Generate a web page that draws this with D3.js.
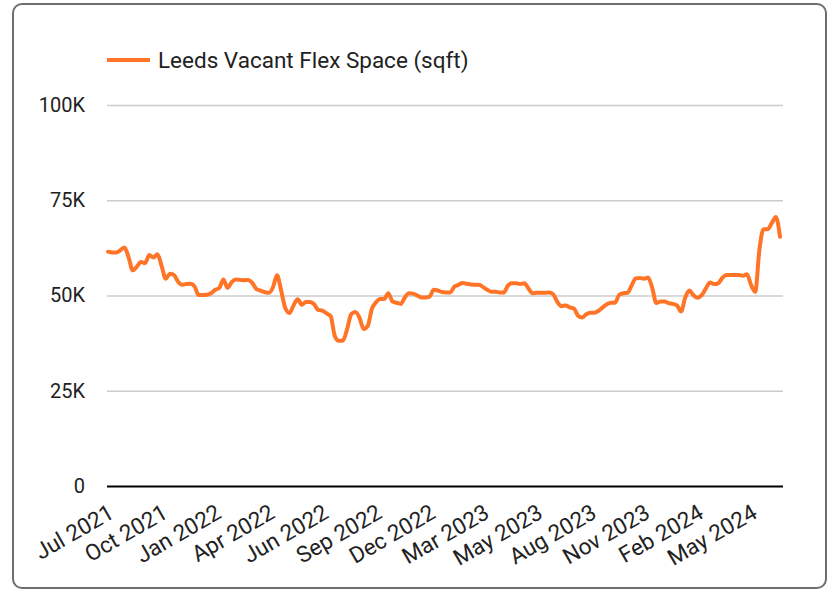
<!DOCTYPE html>
<html>
<head>
<meta charset="utf-8">
<script src="https://cdn.jsdelivr.net/npm/d3@7"></script>
<style>
  body { margin: 0; background: #fff; }
  svg { display: block; font-family: Roboto, "Noto Sans", sans-serif; }
</style>
</head>
<body>
<svg id="chart" width="833" height="592"></svg>
<script>
// ---- Data (weekly points, sqft) ----
const seriesName = "Leeds Vacant Flex Space (sqft)";
const vacantSqft = [
  61500, 61300, 61300, 61900, 62600, 60000, 56600, 57600, 58800, 58500,
  60600, 60000, 60800, 57800, 54400, 55700, 55400, 53600, 52800, 53000,
  53100, 52400, 50100, 50100, 50200, 50600, 51500, 52000, 54200, 52000,
  53500, 54200, 54100, 54000, 54100, 53300, 51700, 51300, 50900, 50700,
  52100, 55300, 51300, 46700, 45400, 47400, 49000, 47600, 48300, 48300,
  47700, 46200, 46000, 45300, 44600, 39400, 38100, 38200, 41200, 45100,
  45700, 44200, 41200, 42000, 46500, 48200, 49100, 49100, 50600, 48400,
  48100, 47800, 49500, 50600, 50500, 50000, 49500, 49500, 49700, 51500,
  51300, 50900, 50800, 50800, 52300, 52800, 53300, 53100, 52900, 52800,
  52800, 52200, 51500, 51000, 51000, 50800, 50800, 52600, 53200, 53200,
  53000, 53200, 51800, 50600, 50700, 50700, 50700, 50800, 50300, 48300,
  47200, 47400, 46900, 46600, 44700, 44200, 45100, 45500, 45500, 46000,
  46900, 47700, 48100, 48100, 50200, 50600, 50700, 52600, 54500, 54600,
  54400, 54700, 52000, 48000, 48400, 48400, 48000, 47800, 47400, 45800,
  49400, 51300, 50100, 49400, 50100, 51800, 53400, 53000, 53200, 54600,
  55400, 55400, 55400, 55400, 55200, 55600, 52700, 51000, 62000, 67400,
  67400, 69000, 70600, 65400
];
const tickLabels = [
  "Jul 2021", "Oct 2021", "Jan 2022", "Apr 2022", "Jun 2022", "Sep 2022", "Dec 2022",
  "Mar 2023", "May 2023", "Aug 2023", "Nov 2023", "Feb 2024", "May 2024"
];
const labelEvery = 13; // one label every 13 weekly points
const yTickValues = [0, 25000, 50000, 75000, 100000];

// ---- Layout ----
const svg = d3.select("#chart");
const plot = { left: 107, right: 783, top: 105, bottom: 486 };
const lineColor = "#ff7426";

// Card border
svg.append("rect")
  .attr("x", 13).attr("y", 4)
  .attr("width", 813).attr("height", 584)
  .attr("rx", 9).attr("ry", 9)
  .attr("fill", "#fff")
  .attr("stroke", "#6e6e6e")
  .attr("stroke-width", 2);

// Scales
const x = d3.scaleLinear()
  .domain([0, vacantSqft.length - 1])
  .range([108, 780]);
const y = d3.scaleLinear()
  .domain([0, 100000])
  .range([plot.bottom, plot.top]);

// Y axis with gridlines
const yAxis = d3.axisLeft(y)
  .tickValues(yTickValues)
  .tickSizeInner(-(plot.right - plot.left))
  .tickSizeOuter(0)
  .tickPadding(22)
  .tickFormat(d => d === 0 ? "0" : (d / 1000) + "K");

const gy = svg.append("g")
  .attr("transform", `translate(${plot.left},0)`)
  .call(yAxis);
gy.select(".domain").remove();
gy.selectAll(".tick line")
  .attr("stroke", d => d === 0 ? "#000" : "#cccccc")
  .attr("stroke-width", d => d === 0 ? 2 : 1.5);
gy.selectAll(".tick text")
  .attr("fill", "#222")
  .style("font-size", "20px")
  .style("font-family", "Roboto, sans-serif");

// X axis
const tickIdx = tickLabels.map((_, i) => i * labelEvery);
const xAxis = d3.axisBottom(x)
  .tickValues(tickIdx)
  .tickSize(0)
  .tickFormat((d, i) => tickLabels[i]);

const gx = svg.append("g")
  .attr("transform", `translate(0,${plot.bottom})`)
  .call(xAxis);
gx.select(".domain").remove();
gx.selectAll(".tick text")
  .attr("x", 0).attr("y", 0).attr("dy", 0)
  .attr("text-anchor", "end")
  .attr("transform", "translate(7,31) rotate(-30)")
  .attr("fill", "#222")
  .style("font-size", "22.5px")
  .style("font-family", "Roboto, sans-serif");

// Line
const line = d3.line()
  .x((d, i) => x(i))
  .y(d => y(d))
  .curve(d3.curveMonotoneX);

svg.append("path")
  .datum(vacantSqft)
  .attr("d", line)
  .attr("fill", "none")
  .attr("stroke", lineColor)
  .attr("stroke-width", 4)
  .attr("stroke-linejoin", "round")
  .attr("stroke-linecap", "round");

// Legend
const legend = svg.append("g").attr("transform", "translate(107,60)");
legend.append("line")
  .attr("x1", 0).attr("x2", 43).attr("y1", 0).attr("y2", 0)
  .attr("stroke", lineColor).attr("stroke-width", 4);
legend.append("text")
  .attr("x", 51).attr("y", 0).attr("dy", "0.35em")
  .attr("fill", "#222")
  .style("font-size", "22.5px")
  .style("font-family", "Roboto, sans-serif")
  .text(seriesName);
</script>
</body>
</html>
